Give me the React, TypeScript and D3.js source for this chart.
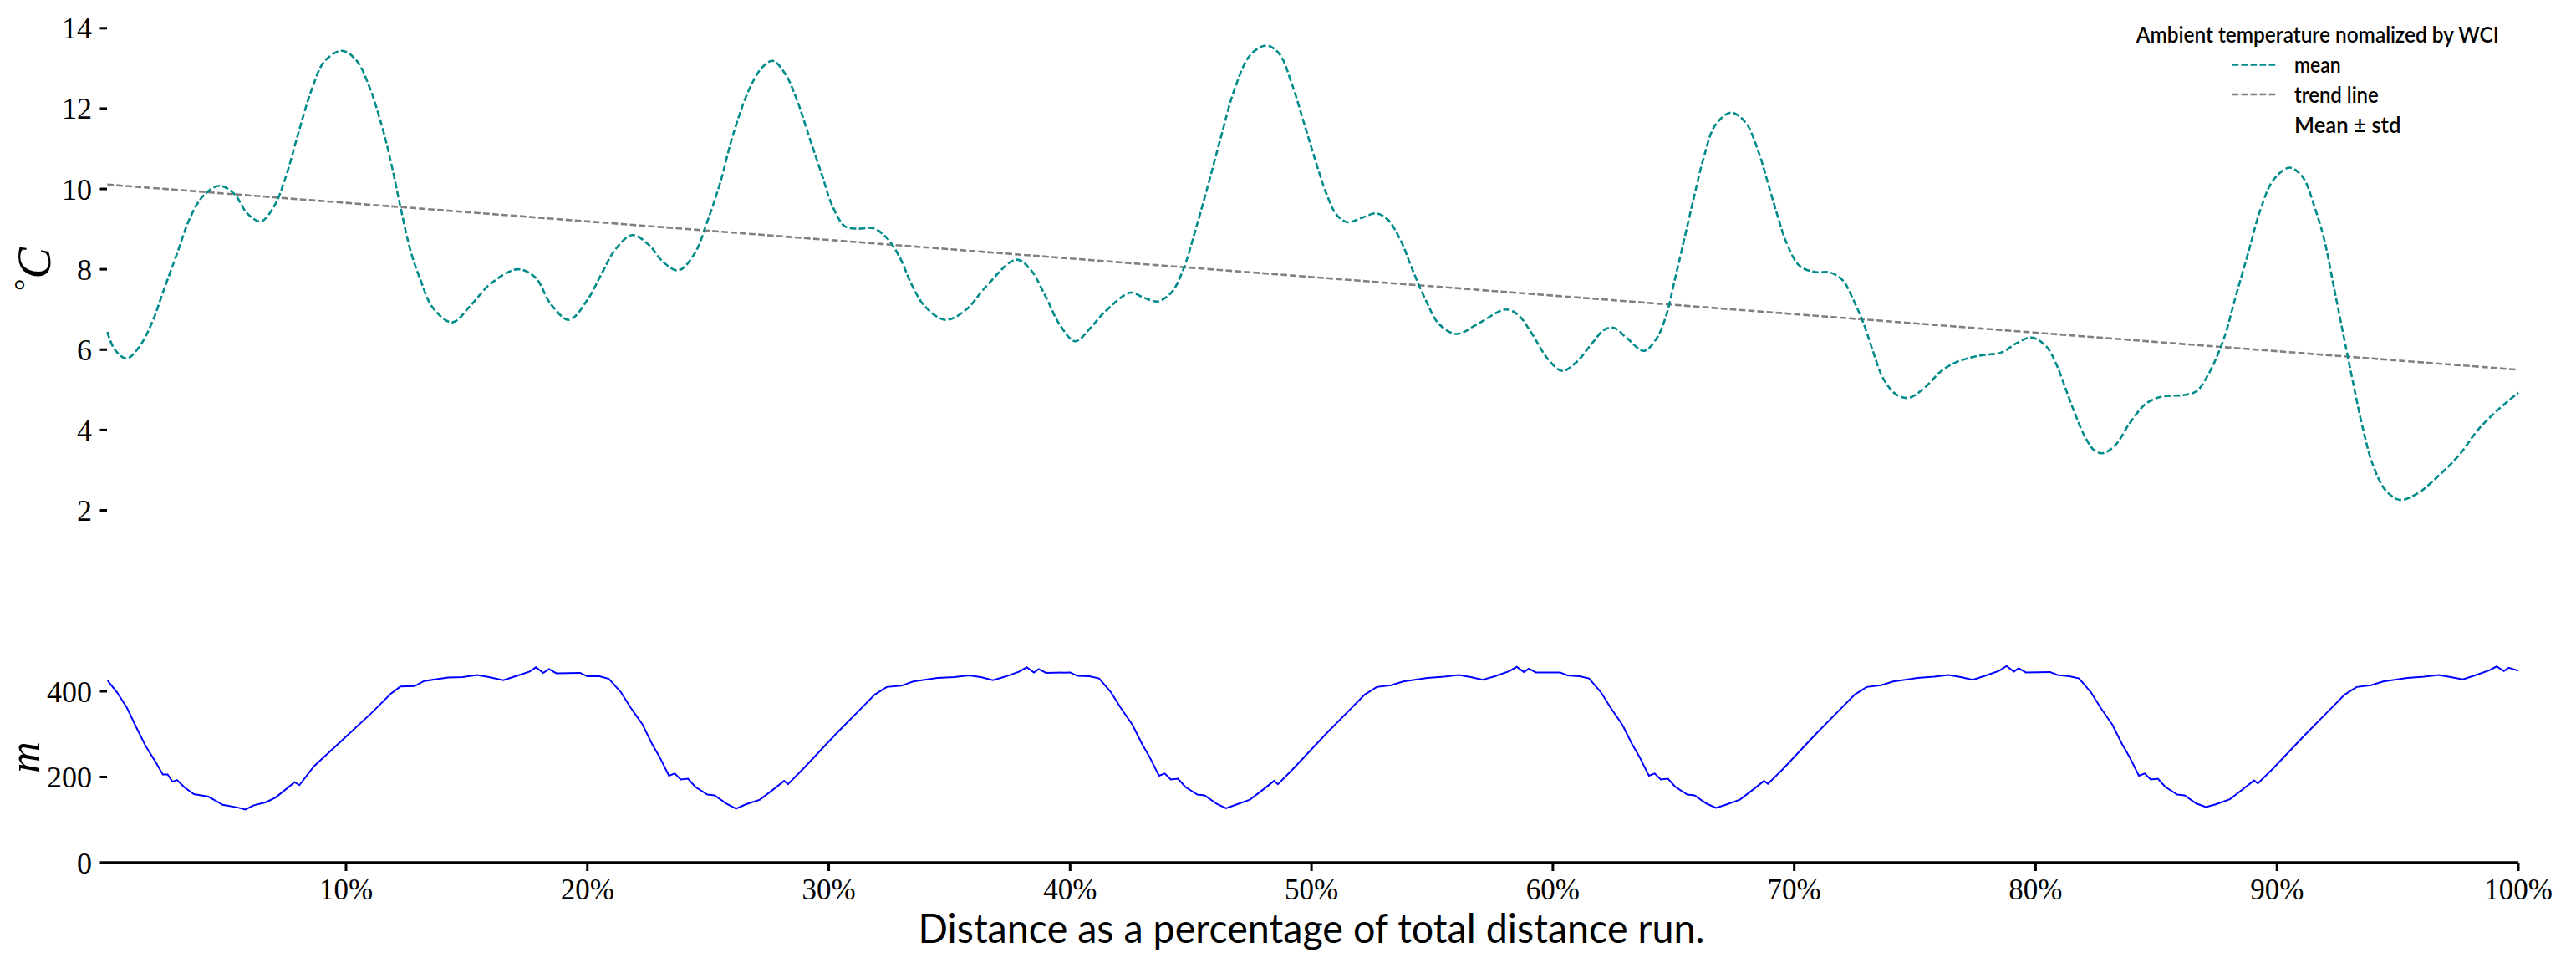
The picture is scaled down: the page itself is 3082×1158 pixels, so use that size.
import React from "react";
import * as d3 from "d3";

// ---- data ----
const meanPct = [0.11,0.42,0.91,1.41,1.94,2.47,3.0,3.53,4.06,4.75,5.38,5.91,6.47,7.04,7.51,8.04,8.57,9.10,9.82,10.42,10.95,11.48,11.88,12.27,12.67,13.07,13.6,14.4,15.19,15.99,17.11,17.84,18.5,19.24,19.96,20.6,21.13,21.86,22.58,23.11,23.77,24.44,24.97,25.5,26.03,26.69,27.22,27.68,28.21,28.68,29.21,29.74,30.14,30.67,31.2,31.86,32.45,32.92,33.45,33.98,34.84,35.7,36.5,37.76,38.35,39.02,39.55,40.21,40.87,41.37,42.5,43.03,43.63,44.22,44.69,45.22,45.74,46.27,46.8,47.46,48.13,48.66,49.19,49.72,50.25,50.65,51.05,51.51,52.11,52.7,53.17,53.7,54.23,54.76,55.28,56.02,56.88,58.07,58.6,59.13,59.79,60.39,60.98,61.64,62.14,62.54,63.08,63.77,64.27,64.67,65.06,65.46,65.86,66.25,66.72,67.38,67.98,68.51,68.91,69.3,69.7,70.23,70.89,71.49,72.02,72.42,72.88,73.28,73.68,74.21,74.74,75.4,76.06,76.72,77.65,78.58,79.24,79.84,80.43,80.85,81.23,81.63,82.02,82.42,82.77,83.3,83.9,84.56,85.22,86.15,86.68,87.07,87.47,87.87,88.27,88.8,89.33,89.86,90.52,91.05,91.58,91.97,92.37,92.77,93.17,93.57,93.97,94.5,95.09,95.82,96.75,97.54,98.34,99.13,100];
const meanVal = [6.44,6.0,5.78,6.05,6.64,7.52,8.39,9.27,9.81,10.08,9.87,9.39,9.19,9.59,10.31,11.42,12.46,13.17,13.44,13.21,12.57,11.58,10.62,9.51,8.47,7.76,7.04,6.68,7.12,7.64,8.0,7.8,7.12,6.74,7.2,7.9,8.47,8.85,8.59,8.2,7.97,8.39,9.19,10.15,11.34,12.46,13.01,13.19,12.85,12.22,11.26,10.31,9.59,9.07,9.01,9.02,8.75,8.32,7.6,7.08,6.74,7.0,7.56,8.24,8.0,7.28,6.64,6.21,6.56,6.9,7.42,7.3,7.2,7.44,8.0,9.03,10.15,11.34,12.46,13.33,13.57,13.37,12.61,11.58,10.54,9.83,9.35,9.17,9.29,9.39,9.23,8.71,7.92,7.2,6.64,6.39,6.64,7.0,6.84,6.4,5.77,5.47,5.69,6.17,6.5,6.54,6.28,5.97,6.25,6.8,7.76,8.79,9.83,10.78,11.58,11.9,11.66,10.94,10.15,9.35,8.63,8.08,7.93,7.92,7.72,7.28,6.64,5.93,5.29,4.89,4.8,5.05,5.45,5.69,5.85,5.93,6.17,6.3,6.09,5.65,5.05,4.41,3.86,3.5,3.42,3.62,4.17,4.65,4.83,4.87,4.97,5.29,5.77,6.4,7.28,8.39,9.51,10.23,10.53,10.31,9.51,8.71,7.52,6.32,5.13,4.01,3.14,2.5,2.26,2.42,2.89,3.37,4.01,4.49,4.93];

const trendPct = [0.11, 100];
const trendVal = [10.11, 5.5];

const elevPct = [0.12,0.52,0.92,1.31,1.71,2.11,2.41,2.61,2.81,3.0,3.3,3.7,4.3,4.89,5.49,5.83,6.18,6.68,7.08,7.48,7.87,8.07,8.67,9.86,11.05,11.85,12.25,12.84,13.24,14.23,14.83,15.43,15.92,16.52,17.02,17.61,17.87,18.17,18.41,18.71,19.7,20.0,20.5,20.89,
21.39,21.79,22.28,22.68,22.98,23.38,23.62,23.87,24.17,24.47,24.97,25.27,25.76,26.16,26.56,27.15,27.75,28.15,28.31,28.94,30.29,31.2,31.9,32.4,33.0,33.5,34.5,35.2,35.8,36.3,36.8,37.3,37.9,38.2,38.5,38.7,39.0,40.0,40.3,40.8,41.2,
41.69,42.09,42.58,42.98,43.28,43.68,43.92,44.17,44.47,44.77,45.27,45.57,46.06,46.46,46.86,47.45,48.05,48.45,48.61,49.24,50.59,51.5,52.2,52.7,53.3,53.8,54.8,55.5,56.1,56.6,57.1,57.6,58.2,58.5,58.8,59.0,59.3,60.3,60.6,61.1,61.5,
61.99,62.39,62.88,63.28,63.58,63.98,64.22,64.47,64.77,65.07,65.57,65.87,66.36,66.76,67.16,67.75,68.35,68.75,68.91,69.54,70.89,71.8,72.5,73.0,73.6,74.1,75.1,75.8,76.4,76.9,77.4,77.9,78.5,78.8,79.1,79.3,79.6,80.6,80.9,81.4,81.8,
82.29,82.69,83.18,83.58,83.88,84.28,84.52,84.77,85.07,85.37,85.87,86.17,86.66,87.06,87.46,88.05,88.65,89.05,89.21,89.84,91.19,92.1,92.8,93.3,93.9,94.4,95.4,96.1,96.7,97.2,97.7,98.2,98.8,99.1,99.4,99.6,100];
const elevVal = [425,397,362,316,271,235,206,206,189,193,176,160,154,135,129,124,134,141,152,170,188,181,225,287,349,394,411,412,424,432,433,438,433,426,435,446,456,443,452,442,443,435,435,429,
398,362,323,277,248,203,208,194,196,177,159,157,138,126,136,147,173,191,183,219,300,352,392,410,413,423,431,433,437,433,426,434,446,456,444,452,443,444,436,435,430,
398,362,322,277,248,203,208,194,196,177,159,157,138,127,135,147,173,191,183,219,300,352,392,410,414,423,431,434,438,433,427,435,447,457,445,453,444,444,437,435,430,
398,362,322,277,248,203,208,194,196,177,159,157,138,128,135,147,173,191,184,219,300,352,392,410,414,423,431,434,438,433,427,436,448,459,446,454,444,445,438,435,430,
398,362,322,277,248,203,208,194,196,177,159,157,138,130,136,148,174,192,185,220,300,352,392,410,414,423,431,434,438,433,428,437,449,458,447,455,448];

const tempTicks = [2, 4, 6, 8, 10, 12, 14];
const elevTicks = [0, 200, 400];
const xTicks = [10, 20, 30, 40, 50, 60, 70, 80, 90, 100];

const legendTitle = "Ambient temperature nomalized by WCI";
const legendLabels = ["mean", "trend line", "Mean \u00b1 std"];
const xLabel = "Distance as a percentage of total distance run.";

const W = 3082;
const H = 1158;

export default function App() {
  const x = d3.scaleLinear().domain([0, 100]).range([125.2, 3013]);
  const yT = d3.scaleLinear().domain([2, 14]).range([610.5, 33.8]);
  const yB = d3.scaleLinear().domain([0, 400]).range([1032, 827]);

  const meanPts: [number, number][] = meanPct.map((p, i) => [p, meanVal[i]]);
  const trendPts: [number, number][] = trendPct.map((p, i) => [p, trendVal[i]]);
  const elevPts: [number, number][] = elevPct.map((p, i) => [p, elevVal[i]]);

  const meanLine = d3.line<[number, number]>().x(d => x(d[0])).y(d => yT(d[1])).curve(d3.curveCatmullRom.alpha(0.5));
  const trendLine = d3.line<[number, number]>().x(d => x(d[0])).y(d => yT(d[1]));
  const elevLine = d3.line<[number, number]>().x(d => x(d[0])).y(d => yB(d[1]));

  const serif = "'Liberation Serif', 'DejaVu Serif', serif";
  const sans = "Lato, 'Open Sans', 'DejaVu Sans', sans-serif";
  const axL = 128;

  return (
    <svg width={W} height={H} style={{ position: "absolute", left: 0, top: 0, background: "#fff" }} xmlns="http://www.w3.org/2000/svg">
      <rect x={0} y={0} width={W} height={H} fill="#fff" />
      {/* top panel */}
      <path d={trendLine(trendPts) || ""} fill="none" stroke="#808080" strokeWidth={2.6} strokeDasharray="7.7 3.3" />
      <path d={meanLine(meanPts) || ""} fill="none" stroke="#008b8b" strokeWidth={2.6} strokeDasharray="7.7 3.3" />
      {tempTicks.map(t => (
        <g key={"tt" + t}>
          <line x1={axL - 8.5} x2={axL} y1={yT(t)} y2={yT(t)} stroke="#000" strokeWidth={3} />
          <text x={110} y={yT(t) + 12.5} textAnchor="end" fontFamily={serif} fontSize={36}>{t}</text>
        </g>
      ))}
      <text transform={`translate(60, 322) rotate(-90)`} textAnchor="middle" fontFamily={serif} fontSize={56}>
        <tspan fontSize={36} dy={-18}>{"\u00b0"}</tspan>
        <tspan fontStyle="italic" dy={18}>C</tspan>
      </text>

      {/* bottom panel */}
      <path d={elevLine(elevPts) || ""} fill="none" stroke="#0000ff" strokeWidth={2} />
      <line x1={axL - 8.5} x2={3013} y1={yB(0)} y2={yB(0)} stroke="#000" strokeWidth={3.5} />
      {elevTicks.map(t => (
        <g key={"et" + t}>
          {t !== 0 && <line x1={axL - 8.5} x2={axL} y1={yB(t)} y2={yB(t)} stroke="#000" strokeWidth={3} />}
          <text x={110} y={yB(t) + 12.5} textAnchor="end" fontFamily={serif} fontSize={36}>{t}</text>
        </g>
      ))}
      {xTicks.map(t => (
        <g key={"xt" + t}>
          <line x1={x(t)} x2={x(t)} y1={yB(0)} y2={yB(0) + 10} stroke="#000" strokeWidth={3} />
          <text x={x(t)} y={1076} textAnchor="middle" fontFamily={serif} fontSize={35}>{t + "%"}</text>
        </g>
      ))}
      <text transform={`translate(47, 906) rotate(-90)`} textAnchor="middle" fontFamily={serif} fontStyle="italic" fontSize={52}>m</text>
      <text x={1569} y={1128} textAnchor="middle" fontFamily={sans} fontSize={48} textLength={941} lengthAdjust="spacingAndGlyphs">{xLabel}</text>

      {/* legend */}
      <text x={2555.7} y={50.6} fontFamily={sans} fontSize={27} fontWeight={600} textLength={434} lengthAdjust="spacingAndGlyphs">{legendTitle}</text>
      <line x1={2670.5} x2={2724} y1={77.4} y2={77.4} stroke="#008b8b" strokeWidth={2.6} strokeDasharray="7.7 3.3" />
      <line x1={2670.5} x2={2724} y1={113} y2={113} stroke="#808080" strokeWidth={2.6} strokeDasharray="7.7 3.3" />
      <text x={2745} y={87} fontFamily={sans} fontSize={27} fontWeight={600} textLength={55.6} lengthAdjust="spacingAndGlyphs">{legendLabels[0]}</text>
      <text x={2745} y={122.6} fontFamily={sans} fontSize={27} fontWeight={600} textLength={100.8} lengthAdjust="spacingAndGlyphs">{legendLabels[1]}</text>
      <text x={2745} y={158.5} fontFamily={sans} fontSize={27} fontWeight={600} textLength={127.5} lengthAdjust="spacingAndGlyphs">{legendLabels[2]}</text>
    </svg>
  );
}
